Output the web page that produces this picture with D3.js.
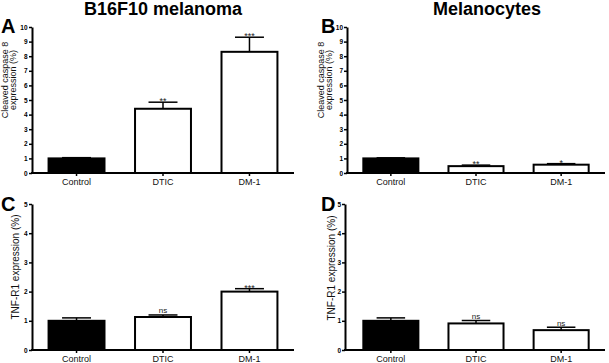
<!DOCTYPE html>
<html>
<head>
<meta charset="utf-8">
<script src="https://cdn.jsdelivr.net/npm/d3@7"></script>
<style>
  html, body { margin: 0; padding: 0; background: #fff; }
  svg { display: block; font-family: "Liberation Sans", Arial, sans-serif; }
</style>
</head>
<body>
<svg id="chart" width="609" height="363"></svg>
<script>
// ---- data ----
const categories = ["Control", "DTIC", "DM-1"];
const columnTitles = ["B16F10 melanoma", "Melanocytes"];

const caspaseMelanoma = [1.0, 4.4, 8.3];
const caspaseMelanomaErr = [0.05, 0.45, 1.0];
const caspaseMelanomaSig = ["", "**", "***"];

const caspaseMelanocytes = [1.0, 0.47, 0.57];
const caspaseMelanocytesErr = [0.04, 0.07, 0.07];
const caspaseMelanocytesSig = ["", "**", "*"];

const tnfMelanoma = [1.0, 1.13, 2.0];
const tnfMelanomaErr = [0.1, 0.07, 0.1];
const tnfMelanomaSig = ["", "ns", "***"];

const tnfMelanocytes = [1.0, 0.91, 0.68];
const tnfMelanocytesErr = [0.1, 0.1, 0.1];
const tnfMelanocytesSig = ["", "ns", "ns"];

const caspaseTicks = [0,1,2,3,4,5,6,7,8,9,10];
const tnfTicks = [0,1,2,3,4,5];
const caspaseLabel = ["Cleaved caspase 8", "expression (%)"];
const tnfLabel = ["TNF-R1 expression (%)"];
const barFills = ["#000000", "#ffffff", "#ffffff"];

// ---- layout ----
const svg = d3.select("#chart");

const panels = [
  { letter: "A", values: caspaseMelanoma, err: caspaseMelanomaErr, sig: caspaseMelanomaSig,
    ticks: caspaseTicks, label: caspaseLabel, labelSize: 9, axisX: 32, bandX: [32, 294], xEnd: 294, yTop: 27, yBot: 173,
    labelX: [8, 16], labelY: 80, letterX: 1, letterY: 33, xLabelY: 185, tickPad: 1.5 },
  { letter: "B", values: caspaseMelanocytes, err: caspaseMelanocytesErr, sig: caspaseMelanocytesSig,
    ticks: caspaseTicks, label: caspaseLabel, labelSize: 9, axisX: 347, bandX: [347, 605], xEnd: 605, yTop: 27, yBot: 173,
    labelX: [324, 332], labelY: 80, letterX: 321, letterY: 33, xLabelY: 185, tickPad: 1 },
  { letter: "C", values: tnfMelanoma, err: tnfMelanomaErr, sig: tnfMelanomaSig,
    ticks: tnfTicks, label: tnfLabel, labelSize: 10, axisX: 32, bandX: [32, 294], xEnd: 294, yTop: 204, yBot: 350,
    labelX: [19], labelY: 267, letterX: 1, letterY: 211, xLabelY: 362, tickPad: 1.5 },
  { letter: "D", values: tnfMelanocytes, err: tnfMelanocytesErr, sig: tnfMelanocytesSig,
    ticks: tnfTicks, label: tnfLabel, labelSize: 10, axisX: 345, bandX: [347, 605], xEnd: 605, yTop: 204, yBot: 350,
    labelX: [335], labelY: 268, letterX: 321, letterY: 211, xLabelY: 362, tickPad: 1 }
];

// column titles
svg.append("text").attr("x", 163).attr("y", 15).attr("text-anchor", "middle")
  .attr("font-size", 18).attr("font-weight", "bold").text(columnTitles[0]);
svg.append("text").attr("x", 487).attr("y", 15).attr("text-anchor", "middle")
  .attr("font-size", 18).attr("font-weight", "bold").text(columnTitles[1]);

panels.forEach(p => {
  const g = svg.append("g");
  const x = d3.scaleBand().domain(categories).range(p.bandX).paddingInner(0.33).paddingOuter(0.18);
  const yMax = p.ticks[p.ticks.length - 1];
  const y = d3.scaleLinear().domain([0, yMax]).range([p.yBot, p.yTop]);

  // panel letter
  g.append("text").attr("x", p.letterX).attr("y", p.letterY)
    .attr("font-size", 20).attr("font-weight", "bold").text(p.letter);

  // y label
  p.label.forEach((t, i) => {
    g.append("text")
      .attr("transform", `translate(${p.labelX[i]},${p.labelY}) rotate(-90)`)
      .attr("text-anchor", "middle").attr("font-size", p.labelSize).attr("fill", "#111").text(t);
  });

  // bars
  categories.forEach((c, i) => {
    const v = p.values[i];
    const bx = x(c), bw = x.bandwidth();
    g.append("rect")
      .attr("x", bx + 1).attr("y", y(v))
      .attr("width", bw - 2).attr("height", y(0) - y(v))
      .attr("fill", barFills[i]).attr("stroke", "#000").attr("stroke-width", 2);
    // error bar (upper only)
    const cx = bx + bw / 2;
    const top = y(v + p.err[i]);
    g.append("line").attr("x1", cx).attr("x2", cx).attr("y1", y(v)).attr("y2", top)
      .attr("stroke", "#000").attr("stroke-width", 1.5);
    g.append("line").attr("x1", cx - bw / 4).attr("x2", cx + bw / 4).attr("y1", top).attr("y2", top)
      .attr("stroke", "#000").attr("stroke-width", 1.5);
    if (p.sig[i]) {
      const isStar = p.sig[i].indexOf("*") >= 0;
      g.append("text").attr("x", cx).attr("y", top - (isStar ? -2 : 1.5))
        .attr("text-anchor", "middle").attr("font-size", isStar ? 9 : 8).attr("fill", "#222")
        .text(p.sig[i]);
    }
  });

  // y axis
  const yAxis = d3.axisLeft(y).tickValues(p.ticks).tickSize(3).tickSizeOuter(0)
    .tickPadding(p.tickPad).tickFormat(d3.format("d"));
  const ya = g.append("g").attr("transform", `translate(${p.axisX},0)`).call(yAxis);
  ya.select(".domain").attr("stroke-width", 2);
  ya.selectAll(".tick line").attr("stroke-width", 1.5);
  ya.selectAll(".tick text").attr("font-size", 6.5).attr("font-weight", "bold").attr("fill", "#000")
    .attr("font-family", "Liberation Sans, Arial, sans-serif");

  // x axis
  const xAxis = d3.axisBottom(x).tickSize(3).tickSizeOuter(0).tickFormat(() => "");
  const xa = g.append("g").attr("transform", `translate(0,${p.yBot})`).call(xAxis);
  xa.select(".domain").attr("d", `M${p.axisX - 1},0H${p.xEnd}`).attr("stroke-width", 2);
  xa.selectAll(".tick line").attr("stroke-width", 1.5);

  categories.forEach(c => {
    g.append("text").attr("x", x(c) + x.bandwidth() / 2).attr("y", p.xLabelY)
      .attr("text-anchor", "middle").attr("font-size", 9).attr("fill", "#111").text(c);
  });
});
</script>
</body>
</html>
